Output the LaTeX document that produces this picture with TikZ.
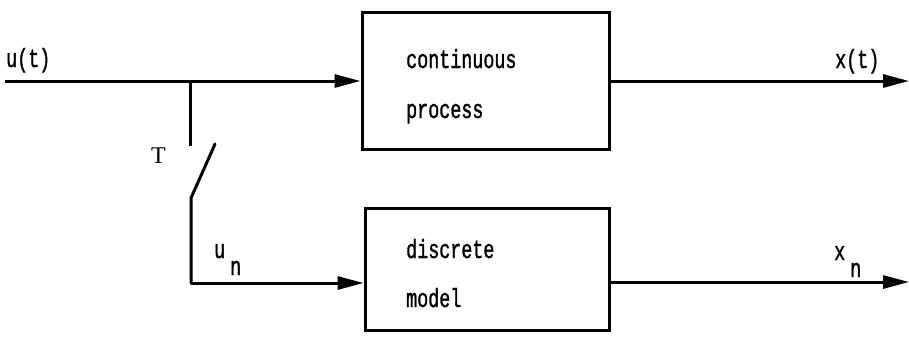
\documentclass[tikz,border=0pt]{standalone}
\usepackage{fontspec}
\newfontfamily\twfont[AutoFakeBold=1.6]{Liberation Mono}
\newfontfamily\labelserif{Liberation Serif}
\usetikzlibrary{arrows.meta}
% tall typewriter lettering
\newcommand\tw[1]{\scalebox{1.05}[1.5]{#1}}
\tikzset{
  blk/.style={draw, line width=3pt, rectangle, inner sep=0pt},
  wire/.style={line width=3pt},
  arr/.style={wire, -{Triangle[length=26pt,width=13pt]}},
  txt/.style={font=\twfont\bfseries\fontsize{17.5}{18}\selectfont, anchor=base west, inner sep=0pt},
  serif/.style={font=\labelserif\fontsize{24}{24}\selectfont, anchor=base west, inner sep=0pt}
}
\begin{document}
\begin{tikzpicture}[x=1pt,y=-1pt]
\useasboundingbox (0,0) rectangle (909,353);
% process blocks
\node[blk, minimum width=247pt, minimum height=136pt] (cp) at (485.5,81) {};
\node[blk, minimum width=244pt, minimum height=122pt] (dm) at (487,269) {};
\node[txt] (cpa) at (406,68) {\tw{continuous}};
\node[txt] (cpb) at (406,118) {\tw{process}};
\node[txt] (dma) at (406,258) {\tw{discrete}};
\node[txt] (dmb) at (406,307) {\tw{model}};
% signal points
\coordinate (uin) at (5,81);
\coordinate (br) at (190,81);
\coordinate (swtop) at (190,146);
\coordinate (swlow) at (191,198);
\coordinate (swtip) at (215,144);
\coordinate (corner) at (191,283);
\coordinate (xout) at (909,81);
\coordinate (xnout) at (909,282);
% connectors
\draw[arr] (uin) -- (cp.west |- uin);
\draw[wire] (br) -- (swtop);
\draw[wire, line cap=round] (swtip) -- (swlow) -- (corner);
\draw[arr] (corner) -- (dm.west |- corner);
\draw[arr] (cp.east |- xout) -- (xout);
\draw[arr] (dm.east |- xnout) -- (xnout);
% labels
\node[txt] (lu) at (6,67) {\tw{u(t)}};
\node[txt] (lx) at (835,68) {\tw{x(t)}};
\node[serif] (lT) at (151,163) {T};
\node[txt] (lun) at (214,258) {\tw{u}};
\node[txt] (lunn) at (230,275) {\tw{n}};
\node[txt] (lxn) at (834,260) {\tw{x}};
\node[txt] (lxnn) at (850,277) {\tw{n}};
\end{tikzpicture}
\end{document}
